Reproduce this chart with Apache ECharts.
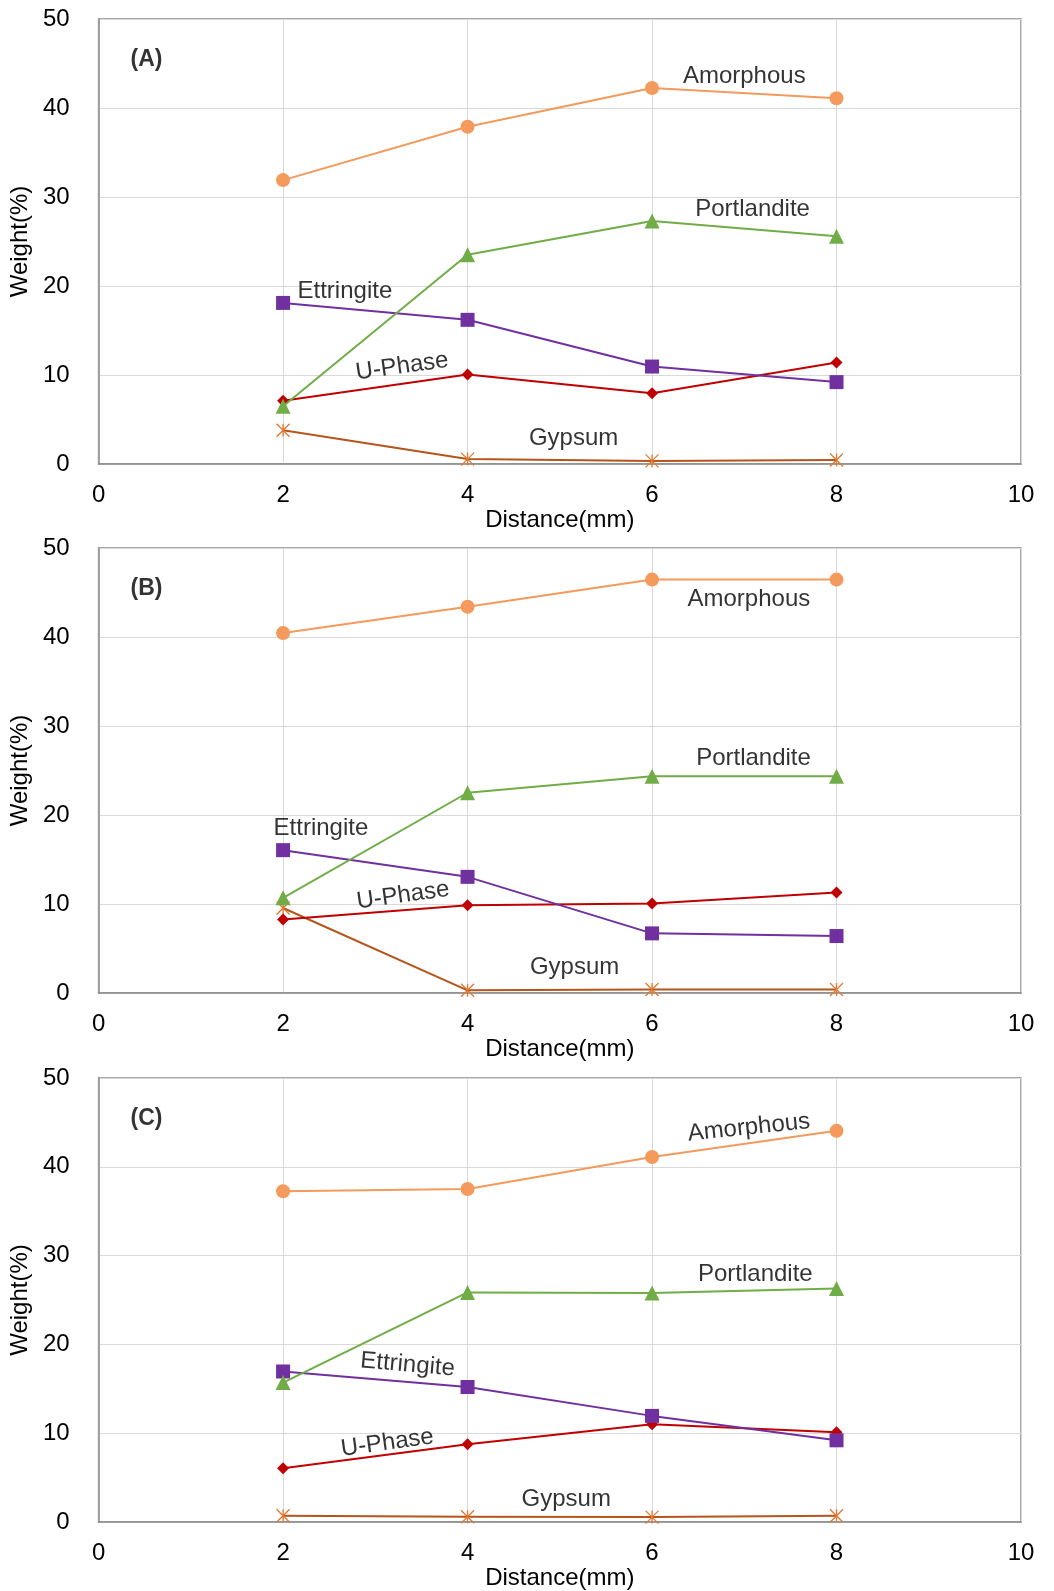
<!DOCTYPE html>
<html>
<head>
<meta charset="utf-8">
<script src="https://cdn.jsdelivr.net/npm/echarts@6/dist/echarts.min.js"></script>
<style>
html,body{margin:0;padding:0;background:#fff;}
#chart{width:1054px;height:1591px;}
</style>
</head>
<body>
<div id="chart"></div>
<script>
// ---- Data ----
const distances = [2, 4, 6, 8];
const xTicks = [0, 2, 4, 6, 8, 10];
const yTicks = [0, 10, 20, 30, 40, 50];
const seriesNames = ['Amorphous', 'Portlandite', 'Ettringite', 'U-Phase', 'Gypsum'];
const panelNames = ['(A)', '(B)', '(C)'];

const amorphousA   = [31.9, 37.9, 42.25, 41.1];
const portlanditeA = [6.5, 23.5, 27.3, 25.6];
const ettringiteA  = [18.1, 16.2, 10.95, 9.2];
const uPhaseA      = [7.1, 10.05, 7.95, 11.4];
const gypsumA      = [3.8, 0.55, 0.35, 0.45];

const amorphousB   = [40.45, 43.4, 46.45, 46.45];
const portlanditeB = [10.7, 22.5, 24.35, 24.35];
const ettringiteB  = [16.05, 13.05, 6.7, 6.4];
const uPhaseB      = [8.25, 9.85, 10.05, 11.3];
const gypsumB      = [9.55, 0.3, 0.4, 0.4];

const amorphousC   = [37.25, 37.5, 41.1, 44.05];
const portlanditeC = [15.7, 25.85, 25.8, 26.3];
const ettringiteC  = [16.95, 15.2, 11.95, 9.2];
const uPhaseC      = [6.05, 8.75, 11.0, 10.1];
const gypsumC      = [0.7, 0.6, 0.55, 0.7];

const panels = [
  [amorphousA, portlanditeA, ettringiteA, uPhaseA, gypsumA],
  [amorphousB, portlanditeB, ettringiteB, uPhaseB, gypsumB],
  [amorphousC, portlanditeC, ettringiteC, uPhaseC, gypsumC]
];

// ---- Annotation placement (data space) ----
const annotations = [
  [ {t:'Amorphous',x:7.0,y:43.5,r:0}, {t:'Portlandite',x:7.09,y:28.65,r:0}, {t:'Ettringite',x:2.67,y:19.4,r:0}, {t:'U-Phase',x:3.29,y:10.95,r:8}, {t:'Gypsum',x:5.15,y:2.9,r:0} ],
  [ {t:'Amorphous',x:7.05,y:44.2,r:0}, {t:'Portlandite',x:7.1,y:26.4,r:0}, {t:'Ettringite',x:2.41,y:18.55,r:0}, {t:'U-Phase',x:3.3,y:10.95,r:8}, {t:'Gypsum',x:5.16,y:2.92,r:0} ],
  [ {t:'Amorphous',x:7.05,y:44.4,r:6}, {t:'Portlandite',x:7.12,y:27.85,r:0}, {t:'Ettringite',x:3.35,y:17.7,r:-5}, {t:'U-Phase',x:3.13,y:8.9,r:8}, {t:'Gypsum',x:5.07,y:2.5,r:0} ]
];
const panelLabelPos = {x: 0.52, y: 45.4};

// ---- Styles ----
const FONT = 'Liberation Sans, Arial, sans-serif';
const styles = [
  {color:'#F39A5C', symbol:'circle', size:14},
  {color:'#70AD47', symbol:'triangle', size:15},
  {color:'#7030A0', symbol:'rect', size:14},
  {color:'#C00000', symbol:'diamond', size:12},
  {color:'#B5541B', symbol:'path://M0,0L10,10M10,0L0,10M5,0L5,10', size:13, marker:'#E4782F'}
];
const gridTops = [19, 548, 1078];
const gridHeights = [445, 445, 444];

const grids = [], xAxes = [], yAxes = [], series = [];
panels.forEach((panel, p) => {
  grids.push({left: 95, width: 926, top: gridTops[p], height: gridHeights[p],
    show: true, borderColor: '#8C8C8C', borderWidth: 1.5, backgroundColor: 'transparent'});
  xAxes.push({type: 'value', gridIndex: p, min: xTicks[0], max: xTicks[xTicks.length-1], interval: 2,
    name: 'Distance(mm)', nameLocation: 'middle', nameGap: 35,
    nameTextStyle: {fontFamily: FONT, fontSize: 24, color: '#000'},
    axisLine: {show: true, lineStyle: {color: '#8C8C8C', width: 1.5}},
    axisTick: {show: false},
    axisLabel: {fontFamily: FONT, fontSize: 24, color: '#000', margin: 19},
    splitLine: {show: true, lineStyle: {color: '#D9D9D9', width: 1}}});
  yAxes.push({type: 'value', gridIndex: p, min: yTicks[0], max: yTicks[yTicks.length-1], interval: 10,
    name: 'Weight(%)', nameLocation: 'middle', nameGap: 59,
    nameTextStyle: {fontFamily: FONT, fontSize: 24, color: '#000'},
    axisLine: {show: true, lineStyle: {color: '#8C8C8C', width: 1.5}},
    axisTick: {show: false},
    axisLabel: {fontFamily: FONT, fontSize: 24, color: '#000', margin: 29},
    splitLine: {show: true, lineStyle: {color: '#D9D9D9', width: 1}}});
  panel.forEach((vals, s) => {
    const st = styles[s];
    const isPath = st.symbol.indexOf('path://') === 0;
    series.push({
      type: 'line', name: seriesNames[s] + ' ' + panelNames[p], xAxisIndex: p, yAxisIndex: p,
      data: distances.map((d, i) => [d, vals[i]]),
      symbol: st.symbol, symbolSize: st.size, showSymbol: true,
      lineStyle: {color: st.color, width: 2},
      itemStyle: isPath ? {color: 'rgba(0,0,0,0)', borderColor: st.marker, borderWidth: 1.3}
                        : {color: st.color, borderWidth: 0},
      z: 3 + (4 - s), animation: false, silent: true
    });
  });
  // annotation labels
  series.push({
    type: 'scatter', xAxisIndex: p, yAxisIndex: p, symbolSize: 0, silent: true, animation: false, z: 10,
    data: annotations[p].map(a => ({value: [a.x, a.y], name: a.t,
      label: {show: true, position: 'inside', formatter: a.t, rotate: a.r,
        fontFamily: FONT, fontSize: 24, color: '#000'}}))
  });
  series.push({
    type: 'scatter', xAxisIndex: p, yAxisIndex: p, symbolSize: 0, silent: true, animation: false, z: 10,
    data: [{value: [panelLabelPos.x, panelLabelPos.y], name: panelNames[p],
      label: {show: true, position: 'inside', formatter: panelNames[p],
        fontFamily: FONT, fontSize: 23, fontWeight: 'bold', color: '#000'}}]
  });
});

const chart = echarts.init(document.getElementById('chart'), null, {renderer: 'canvas'});
chart.setOption({
  backgroundColor: '#fff',
  animation: false,
  grid: grids, xAxis: xAxes, yAxis: yAxes, series: series
});
</script>
</body>
</html>
